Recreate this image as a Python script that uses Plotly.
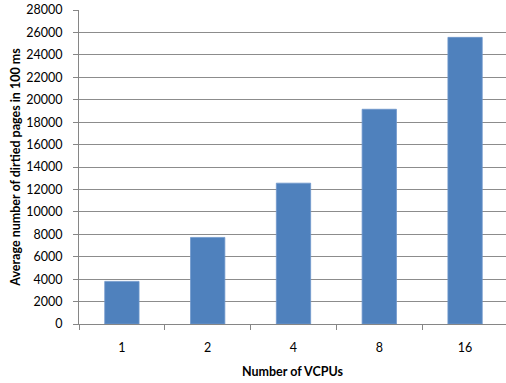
import plotly.graph_objects as go

categories = ["1", "2", "4", "8", "16"]
values = [3800, 7720, 12560, 19150, 25560]
y_ticks = list(range(0, 28001, 2000))

fig = go.Figure(go.Bar(
    x=categories, y=values, width=0.4,
    marker=dict(color="#4F81BD", line=dict(color="#6E97CC", width=0.8)),
    hoverinfo="skip",
))

font_family = "Lato, 'Open Sans', sans-serif"
fig.update_layout(
    width=506, height=383,
    margin=dict(l=78.5, r=0, t=10, b=59),
    paper_bgcolor="white", plot_bgcolor="white",
    font=dict(family=font_family, size=12.5, color="black"),
    showlegend=False,
)
fig.update_xaxes(
    type="category", range=[-0.5, 4.477],
    tickson="boundaries", ticks="outside", ticklen=5, tickcolor="#868686",
    showline=True, linecolor="#868686", linewidth=1,
    showgrid=False,
    ticklabelstandoff=12,
    title=dict(text="<b>Number of VCPUs</b>", font=dict(size=12.5), standoff=13),
)
fig.update_yaxes(
    range=[0, 28000], tickvals=y_ticks, ticktext=[str(v) for v in y_ticks],
    ticks="outside", ticklen=5, tickcolor="#868686",
    showline=True, linecolor="#868686", linewidth=1,
    showgrid=True, gridcolor="#8C8C8C", gridwidth=1,
    zeroline=False,
    ticklabelstandoff=8,
    title=dict(text="<b>Average number of dirtied pages in 100 ms</b>", font=dict(size=12.5), standoff=2),
)
fig.write_html("out.html", config={"displayModeBar": False},
               post_script="document.body.style.margin='0';")
